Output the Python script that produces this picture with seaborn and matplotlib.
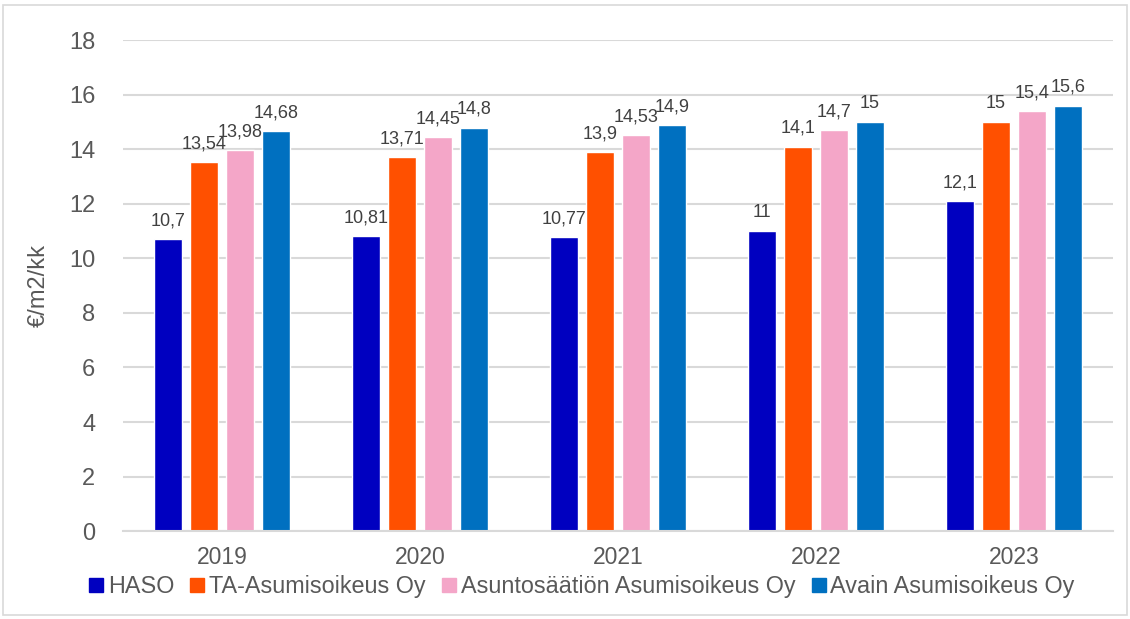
import pandas as pd, numpy as np
import matplotlib
matplotlib.use('Agg')
import matplotlib.pyplot as plt
import matplotlib.patches as mpatches
import seaborn as sns

years = ['2019', '2020', '2021', '2022', '2023']
companies = ['HASO', 'TA-Asumisoikeus Oy', 'Asuntosäätiön Asumisoikeus Oy', 'Avain Asumisoikeus Oy']
haso = [10.7, 10.81, 10.77, 11, 12.1]
ta = [13.54, 13.71, 13.9, 14.1, 15]
asuntosaatio = [13.98, 14.45, 14.53, 14.7, 15.4]
avain = [14.68, 14.8, 14.9, 15, 15.6]
colors = ['#0000C0', '#FF5000', '#F4A6C8', '#0070C0']

rows = []
for name, vals in zip(companies, [haso, ta, asuntosaatio, avain]):
    for y, v in zip(years, vals):
        rows.append({'Vuosi': y, 'Yhtiö': name, 'Arvo': v})
df = pd.DataFrame(rows)

sns.set_style('white')
plt.rcParams['font.family'] = ['Liberation Sans', 'DejaVu Sans']
txt = '#595959'

fig = plt.figure(figsize=(11.3, 6.19), dpi=100)
ax = fig.add_axes([0.109, 0.142, 0.876, 0.793])
sns.barplot(data=df, x='Vuosi', y='Arvo', hue='Yhtiö', order=years, hue_order=companies,
            palette=colors, width=0.727, gap=0.22, ax=ax, legend=False, saturation=1)

# arvot palkkien päälle pilkulla
for cont in ax.containers:
    ax.bar_label(cont, labels=[('%g' % b.get_height()).replace('.', ',') for b in cont],
                 padding=7, fontsize=13, color='#404040')

ax.set_ylim(0, 18)
ax.set_xlim(-0.5, 4.5)
ax.set_yticks(range(0, 19, 2))
ax.yaxis.grid(True, color='#D9D9D9', linewidth=1.5)
ax.set_axisbelow(True)
for s in ['left', 'right', 'top']:
    ax.spines[s].set_visible(False)
ax.spines['bottom'].set_color('#D9D9D9')
ax.spines['bottom'].set_linewidth(1.5)
ax.tick_params(axis='x', length=0, labelsize=16.5, colors=txt, pad=11)
ax.tick_params(axis='y', length=0, labelsize=17, colors=txt, pad=20)
ax.set_xlabel('')
ax.set_ylabel('€/m2/kk', fontsize=17, color=txt, labelpad=14)

handles = [mpatches.Patch(color=c, label=n) for c, n in zip(colors, companies)]
fig.legend(handles=handles, loc='center', bbox_to_anchor=(0.515, 0.052), ncol=4, frameon=False,
           fontsize=16.8, labelcolor=txt, handlelength=0.6, handleheight=0.6,
           handletextpad=0.2, columnspacing=0.7, borderaxespad=0)

fig.patches.append(mpatches.Rectangle((0.003, 0.006), 0.994, 0.986, transform=fig.transFigure,
                                      fill=False, edgecolor='#D9D9D9', linewidth=1.2))

fig.savefig('out.png', dpi=100)
